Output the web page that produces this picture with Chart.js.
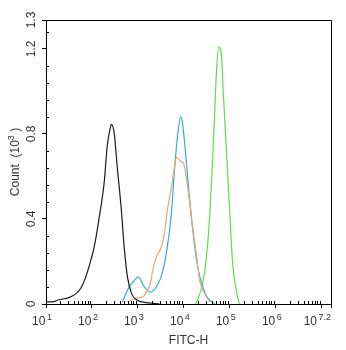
<!DOCTYPE html>
<html>
<head>
<meta charset="utf-8">
<script src="https://cdn.jsdelivr.net/npm/chart.js@4"></script>
<style>
  html, body { margin: 0; padding: 0; background: #fff; }
  canvas { display: block; }
</style>
</head>
<body>
<canvas id="chart" width="346" height="350"></canvas>
<script>
// FITC-H histograms; x is log10 of intensity, y is count in 10^3
const blackX = [1.00, 1.13, 1.28, 1.50, 1.66, 1.76, 1.87, 1.98, 2.05, 2.16, 2.27, 2.33, 2.40, 2.42, 2.48, 2.55, 2.64, 2.70, 2.77, 2.86, 2.97, 3.25, 3.47];
const blackY = [0.01, 0.01, 0.02, 0.03, 0.05, 0.075, 0.13, 0.21, 0.27, 0.41, 0.58, 0.74, 0.83, 0.845, 0.81, 0.645, 0.44, 0.27, 0.13, 0.05, 0.02, 0.005, 0.0];

const orangeX = [2.77, 2.97, 3.10, 3.21, 3.29, 3.31, 3.40, 3.51, 3.58, 3.64, 3.73, 3.79, 3.84, 3.95, 3.99, 4.06, 4.12, 4.19, 4.28, 4.34, 4.45, 4.56];
const orangeY = [0.01, 0.028, 0.033, 0.066, 0.113, 0.146, 0.22, 0.268, 0.334, 0.442, 0.55, 0.64, 0.69, 0.668, 0.664, 0.584, 0.489, 0.362, 0.22, 0.113, 0.05, 0.01];

const cyanX = [2.66, 2.81, 2.88, 3.01, 3.14, 3.27, 3.40, 3.53, 3.64, 3.73, 3.79, 3.86, 3.93, 3.97, 4.03, 4.12, 4.21, 4.30, 4.41, 4.52, 4.67];
const cyanY = [0.01, 0.08, 0.10, 0.127, 0.08, 0.056, 0.08, 0.146, 0.27, 0.43, 0.617, 0.786, 0.88, 0.85, 0.725, 0.504, 0.315, 0.174, 0.08, 0.028, 0.0];

const greenX = [4.25, 4.30, 4.41, 4.49, 4.56, 4.62, 4.67, 4.71, 4.76, 4.82, 4.86, 4.93, 5.00, 5.06, 5.15, 5.21];
const greenY = [0.0, 0.02, 0.1, 0.22, 0.41, 0.66, 0.897, 1.1, 1.21, 1.16, 0.98, 0.70, 0.42, 0.193, 0.05, 0.0];

const xTicks = [1, 2, 3, 4, 5, 6, 7, 7.2];
const xExponents = ["1", "2", "3", "4", "5", "6", "", "7.2"];
const yTicks = [0, 0.4, 0.8, 1.2, 1.336];
const yTickLabels = ["0", "0.4", "0.8", "1.2", "1.3"];

const FONT = "'Liberation Sans', Arial, sans-serif";

function pts(xs, ys) {
  return xs.map((x, i) => ({ x: x, y: ys[i] }));
}

function curve(label, xs, ys, color) {
  return {
    label: label,
    data: pts(xs, ys),
    borderColor: color,
    borderWidth: 1.2,
    pointRadius: 0,
    fill: false,
    cubicInterpolationMode: "monotone",
  };
}

// "10" followed by a raised exponent
function powerText(ctx, exp, x, y, align) {
  ctx.font = "12px " + FONT;
  const wb = ctx.measureText("10").width;
  ctx.font = "9px " + FONT;
  const we = ctx.measureText(exp).width;
  const w = wb + 1.5 + we;
  let left = x - w / 2;
  if (align === "right") left = x - w;
  ctx.textAlign = "left";
  ctx.textBaseline = "alphabetic";
  ctx.font = "12px " + FONT;
  ctx.fillText("10", left, y);
  ctx.font = "9px " + FONT;
  ctx.fillText(exp, left + wb + 1.5, y - 5);
}

const axisDecor = {
  id: "axisDecor",
  afterDraw(chart) {
    const ctx = chart.ctx;
    const a = chart.chartArea;
    const xs = chart.scales.x;
    const ys = chart.scales.y;
    ctx.save();
    ctx.strokeStyle = "#000";
    ctx.fillStyle = "#333";
    ctx.lineWidth = 1;

    // top and right frame
    ctx.beginPath();
    ctx.moveTo(a.left - 4, a.top + 0.5);
    ctx.lineTo(a.right + 0.5, a.top + 0.5);
    ctx.lineTo(a.right + 0.5, a.bottom);
    ctx.stroke();

    // minor ticks, pointing inward
    ctx.beginPath();
    for (let d = 1; d < 7.2; d++) {
      for (let k = 2; k <= 9; k++) {
        const v = d + Math.log10(k);
        if (v >= 7.2) continue;
        const px = Math.round(xs.getPixelForValue(v)) + 0.5;
        ctx.moveTo(px, a.bottom);
        ctx.lineTo(px, a.bottom - 3);
      }
    }
    for (let i = 1; i * 0.08 < 1.33; i++) {
      if (i % 5 === 0) continue;
      const py = Math.round(ys.getPixelForValue(i * 0.08)) + 0.5;
      ctx.moveTo(a.left, py);
      ctx.lineTo(a.left + 3, py);
    }
    ctx.stroke();

    // x tick labels
    xTicks.forEach((v, i) => {
      if (!xExponents[i]) return;
      const px = xs.getPixelForValue(v);
      const last = i === xTicks.length - 1;
      powerText(ctx, xExponents[i], last ? px : px - 4, 325, last ? "right" : "center");
    });

    // y tick labels, rotated
    ctx.font = "12px " + FONT;
    ctx.textAlign = "center";
    ctx.textBaseline = "alphabetic";
    yTicks.forEach((v, i) => {
      const py = ys.getPixelForValue(v);
      ctx.save();
      ctx.translate(35, py);
      ctx.rotate(-Math.PI / 2);
      ctx.fillText(yTickLabels[i], 0, 0);
      ctx.restore();
    });

    // axis titles
    ctx.textAlign = "center";
    ctx.fillText("FITC-H", (a.left + a.right) / 2, 344);

    ctx.save();
    ctx.translate(19, (a.top + a.bottom) / 2);
    ctx.rotate(-Math.PI / 2);
    ctx.font = "12px " + FONT;
    const t1 = "Count  (10";
    const t2 = "3";
    const t3 = " )";
    const w1 = ctx.measureText(t1).width;
    const w3 = ctx.measureText(t3).width;
    ctx.font = "9px " + FONT;
    const w2 = ctx.measureText(t2).width;
    const total = w1 + w2 + w3;
    let u = -total / 2;
    ctx.textAlign = "left";
    ctx.font = "12px " + FONT;
    ctx.fillText(t1, u, 0);
    ctx.font = "9px " + FONT;
    ctx.fillText(t2, u + w1, -5);
    ctx.font = "12px " + FONT;
    ctx.fillText(t3, u + w1 + w2, 0);
    ctx.restore();

    ctx.restore();
  },
};

new Chart(document.getElementById("chart"), {
  type: "line",
  data: {
    datasets: [
      curve("black", blackX, blackY, "#1c1c1c"),
      curve("orange", orangeX, orangeY, "#e9a679"),
      curve("cyan", cyanX, cyanY, "#38acd6"),
      curve("green", greenX, greenY, "#62dc4a"),
    ],
  },
  options: {
    responsive: false,
    animation: false,
    layout: { padding: { top: 20, right: 15, left: 0, bottom: 0 } },
    plugins: { legend: { display: false }, tooltip: { enabled: false } },
    scales: {
      x: {
        type: "linear",
        min: 1,
        max: 7.2,
        afterBuildTicks: (s) => { s.ticks = xTicks.map((v) => ({ value: v })); },
        afterFit: (s) => { s.height = 46; },
        ticks: { display: false },
        grid: { drawOnChartArea: false, drawTicks: true, tickLength: 4, color: "#000" },
        border: { display: true, color: "#000", width: 1 },
      },
      y: {
        type: "linear",
        min: 0,
        max: 1.336,
        afterBuildTicks: (s) => { s.ticks = yTicks.map((v) => ({ value: v })); },
        afterFit: (s) => { s.width = 46; },
        ticks: { display: false },
        grid: { drawOnChartArea: false, drawTicks: true, tickLength: 4, color: "#000" },
        border: { display: true, color: "#000", width: 1 },
      },
    },
  },
  plugins: [axisDecor],
});
</script>
</body>
</html>
